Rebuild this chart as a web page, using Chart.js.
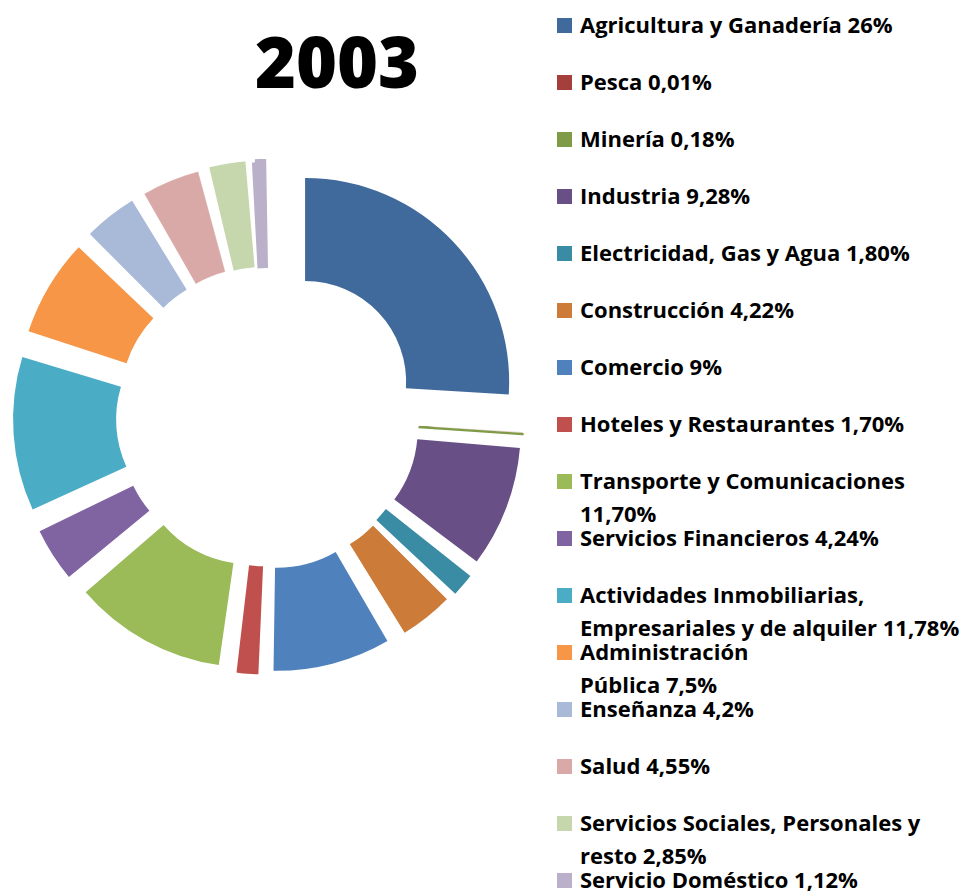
<!DOCTYPE html>
<html lang="es">
<head>
    <meta charset="UTF-8">
    <title>2003</title>
    <script src="https://cdn.jsdelivr.net/npm/chart.js"></script>
    <style>
        body { margin: 0; background: #fff; font-family: 'Open Sans', sans-serif; color: #000; }
        .lienzo { position: relative; width: 966px; height: 891px; overflow: hidden; }
        .titulo {
            position: absolute; left: 237px; top: 26px; width: 200px;
            text-align: center; font-size: 70px; font-weight: 800; line-height: 70px;
        }
        .chart-box { position: absolute; left: 0; top: 0; width: 536px; height: 834px; }
        #leyenda { position: absolute; left: 557px; top: 8px; margin: 0; padding: 0; list-style: none; }
        #leyenda li {
            position: relative; height: 57px; padding-left: 23px;
            font-size: 22px; font-weight: 700; line-height: 33px; white-space: nowrap;
        }
        #leyenda li span { position: absolute; left: 0; top: 10px; width: 15px; height: 15px; }
    </style>
</head>
<body>
    <div class="lienzo">
        <div class="chart-box"><canvas id="grafico"></canvas></div>
        <div class="titulo" id="titulo"></div>
        <ul id="leyenda"></ul>
    </div>
    <script>
        const titulo = '2003';

        // etiquetas de la leyenda (las de dos líneas van partidas como en el original)
        const etiquetas = [
            'Agricultura y Ganadería 26%',
            'Pesca 0,01%',
            'Minería 0,18%',
            'Industria 9,28%',
            'Electricidad, Gas y Agua 1,80%',
            'Construcción 4,22%',
            'Comercio 9%',
            'Hoteles y Restaurantes 1,70%',
            ['Transporte y Comunicaciones', '11,70%'],
            'Servicios Financieros 4,24%',
            ['Actividades Inmobiliarias,', 'Empresariales y de alquiler 11,78%'],
            ['Administración', 'Pública 7,5%'],
            'Enseñanza 4,2%',
            'Salud 4,55%',
            ['Servicios Sociales, Personales y', 'resto 2,85%'],
            'Servicio Doméstico 1,12%'
        ];

        const porcentajes = [26, 0.01, 0.18, 9.28, 1.80, 4.22, 9, 1.70, 11.70, 4.24, 11.78, 7.5, 4.2, 4.55, 2.85, 1.12];

        const colores = [
            '#416a9c', '#a43f3c', '#7f9b47', '#684f86', '#3a8ca5', '#cc7b38', '#4f81bd', '#c0504d',
            '#9bbb59', '#8064a2', '#4bacc6', '#f79646', '#a9b9d8', '#d9a9a8', '#c7d7ad', '#bab0ca'
        ];

        const RADIO = 204;       // radio exterior en px
        const SEPARACION = 51;   // px que se desplaza cada porción hacia fuera
        const total = porcentajes.reduce((a, b) => a + b, 0);

        function angulo(ctx) {
            return Math.min(Math.PI, ctx.raw / total * 2 * Math.PI);
        }

        // Chart.js empuja los arcos finos un poco más (offset/4 * (1 - sin(ángulo))),
        // así que se compensa para que todas las porciones salgan lo mismo
        function desplazamiento(ctx) {
            return 4 * SEPARACION / (2 - Math.sin(angulo(ctx)));
        }

        // ...y además los estrecha; un borde del mismo color les devuelve el ancho
        function borde(ctx) {
            const a = angulo(ctx);
            const extra = SEPARACION / (2 - Math.sin(a)) * (1 - Math.sin(a));
            return Math.max(0, Math.min(a * RADIO, extra * (1 / Math.PI - a)));
        }

        document.getElementById('titulo').textContent = titulo;

        const chart = new Chart(document.getElementById('grafico'), {
            type: 'doughnut',
            data: {
                labels: etiquetas,
                datasets: [{
                    data: porcentajes,
                    backgroundColor: colores,
                    borderColor: colores,
                    borderWidth: borde,
                    borderJoinStyle: 'miter',
                    offset: desplazamiento,
                    hoverOffset: 0,
                    clip: false
                }]
            },
            options: {
                responsive: true,
                maintainAspectRatio: false,
                animation: false,
                radius: RADIO,
                cutout: '49.5%',
                layout: { padding: 0 },
                plugins: {
                    legend: { display: false },
                    tooltip: { enabled: false }
                }
            }
        });

        // leyenda en HTML a la derecha
        const items = chart.options.plugins.legend.labels.generateLabels(chart);
        document.getElementById('leyenda').innerHTML = items.map(item => {
            const texto = Array.isArray(item.text) ? item.text.join('<br>') : item.text;
            return `<li><span style="background:${item.fillStyle}"></span>${texto}</li>`;
        }).join('');
    </script>
</body>
</html>
